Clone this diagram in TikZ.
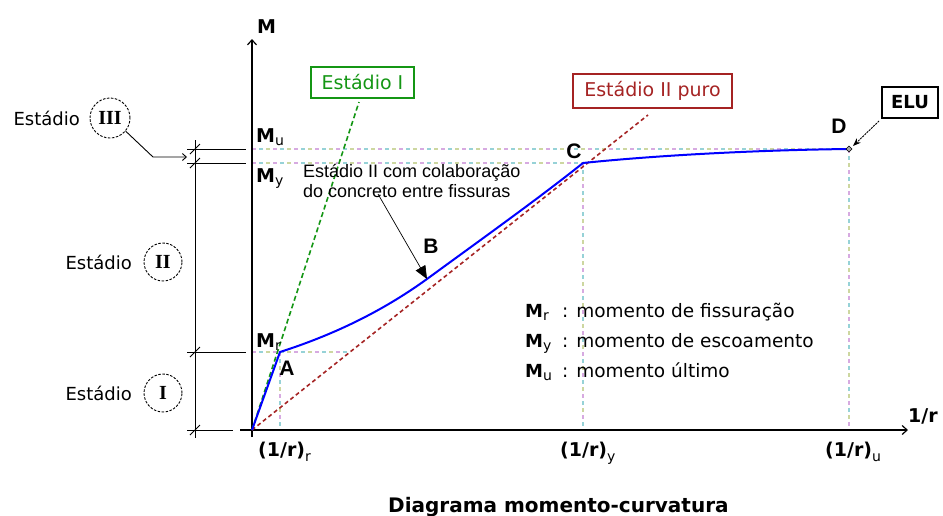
\documentclass[tikz,border=0pt]{standalone}
\usepackage{fontspec}
\setmainfont{DejaVu Sans}
\newfontfamily\arialf{Liberation Sans}
\newfontfamily\timesf{Liberation Serif}
\usetikzlibrary{arrows.meta}
\definecolor{bluel}{RGB}{0,0,255}
\definecolor{redd}{RGB}{165,35,35}
\definecolor{greend}{RGB}{20,150,20}
\definecolor{guideP}{RGB}{215,170,225}
\definecolor{guideC}{RGB}{150,210,215}
\definecolor{guideY}{RGB}{205,215,160}
\newcommand{\Msub}[2][19]{{\bfseries\fontsize{#1}{#1}\selectfont M}\raisebox{-3pt}{\fontsize{14}{14}\selectfont #2}}
\newcommand{\curv}[1]{{\bfseries\fontsize{19}{19}\selectfont (1/r)}\raisebox{-5pt}{\fontsize{14}{14}\selectfont #1}}
\begin{document}
\begin{tikzpicture}[x=1pt,y=-1pt,
  font=\fontsize{18}{20}\selectfont,
  blueline/.style={draw=bluel, line width=2pt, line join=round},
  redline/.style={draw=redd, line width=1.6pt, dash pattern=on 4pt off 3pt},
  greenline/.style={draw=greend, line width=1.6pt, dash pattern=on 5pt off 3pt},
  guide/.style={draw=guideP, line width=1.1pt, dash pattern=on 4pt off 17pt,
     postaction={draw=guideC, line width=1.1pt, dash pattern=on 4pt off 17pt, dash phase=14pt},
     postaction={draw=guideY, line width=1.1pt, dash pattern=on 4pt off 17pt, dash phase=7pt}},
  dim/.style={draw=black, line width=0.9pt},
  tick/.style={draw=black, line width=0.8pt},
  numc/.style={circle, draw=black, line width=0.9pt, dash pattern=on 2.5pt off 1.5pt, inner sep=0pt},
  roman/.style={font=\timesf\bfseries\fontsize{20}{20}\selectfont},
  ptlbl/.style={font=\arialf\bfseries\fontsize{21}{21}\selectfont, inner sep=0pt},
  lbl/.style={anchor=base west, inner sep=0pt},
  axarrow/.style={-{Straight Barb[length=5pt,width=9pt]}, line width=1.2pt}
]
\useasboundingbox (0,0) rectangle (943,515);

% key points
\coordinate (O) at (252,430);
\coordinate (A) at (280,352);
\coordinate (B) at (427,279);
\coordinate (C) at (583,163);
\coordinate (D) at (849,149);
\coordinate (Mu0) at (252,149);
\coordinate (My0) at (252,163);
\coordinate (Mr0) at (252,352);
\coordinate (MrE) at (350,352);
\coordinate (Ax) at (280,430);
\coordinate (Cx) at (583,430);
\coordinate (Dx) at (849,430);

% guide lines
\draw[guide] (Mu0) -- (D);
\draw[guide] (My0) -- (C);
\draw[guide] (Mr0) -- (MrE);
\draw[guide] (A) -- (Ax);
\draw[guide] (C) -- (Cx);
\draw[guide] (D) -- (Dx);

% axes
\coordinate (xs) at (240,430);
\coordinate (xe) at (908,430);
\coordinate (ys) at (252,437);
\coordinate (ye) at (252,39);
\draw[axarrow] (xs) -- (xe);
\draw[axarrow] (ys) -- (ye);
\node[lbl, font=\bfseries\fontsize{19}{19}\selectfont] (Mlab) at (257,33) {M};
\node[lbl, font=\bfseries\fontsize{19}{19}\selectfont] (rlab) at (908,422) {1/r};

% boxes
\node[draw=greend, text=greend, line width=1.3pt, minimum width=103pt, minimum height=31pt, inner sep=0pt, font=\fontsize{19}{19}\selectfont] (e1) at (362.5,82.5) {Estádio I};
\node[draw=redd, text=redd, line width=1.3pt, minimum width=159pt, minimum height=34pt, inner sep=0pt, font=\fontsize{19}{19}\selectfont] (e2) at (652.5,91) {Estádio II puro};
\node[draw=black, line width=1.6pt, minimum width=56pt, minimum height=31pt, inner sep=0pt, font=\bfseries\fontsize{18}{18}\selectfont] (elu) at (910,102.5) {ELU};

% stage lines
\coordinate (gEnd) at (359,102);
\coordinate (rEnd) at (648,115);
\draw[greenline] (O) -- (gEnd);
\draw[redline] (O) -- (rEnd);

% moment-curvature curve
\draw[blueline] (O) -- (A) .. controls (330,336) and (380,313) .. (B)
   .. controls (480,240.3) and (540,197.4) .. (C)
   .. controls (660,155) and (760,150) .. (D);

% D marker and ELU arrow
\draw[fill=gray!70, line width=0.6pt] (D) +(-3,0) -- +(0,-3) -- +(3,0) -- +(0,3) -- cycle;
\coordinate (eluS) at (879,121);
\coordinate (Dt) at (853,146);
\draw[line width=0.9pt, dash pattern=on 2pt off 1pt, -{Stealth[length=8pt,width=6pt]}] (eluS) -- (Dt);

% point labels
\node[ptlbl] (lA) at (287,368) {A};
\node[ptlbl] (lB) at (431,246) {B};
\node[ptlbl] (lC) at (574,151) {C};
\node[ptlbl] (lD) at (839,126) {D};

% annotation
\node[lbl, font=\arialf\fontsize{18}{18}\selectfont] (t1) at (303,177) {Estádio II com colaboração};
\node[lbl, font=\arialf\fontsize{18}{18}\selectfont] (t2) at (303,197) {do concreto entre fissuras};
\coordinate (arS) at (378,194);
\draw[line width=0.7pt, -{Triangle[length=13pt,width=11pt]}] (arS) -- (B);

% axis value labels
\node[lbl] (mu) at (256,142) {\Msub{u}};
\node[lbl] (my) at (256,182) {\Msub{y}};
\node[lbl] (mr) at (256,347) {\Msub{r}};
\node[lbl] (x1) at (258,456) {\curv{r}};
\node[lbl] (x2) at (560,456) {\curv{y}};
\node[lbl] (x3) at (825,456) {\curv{u}};

% legend
\begin{scope}[font=\fontsize{18.5}{20}\selectfont]
\node[lbl] (g1a) at (525,317) {\Msub[18]{r}};
\node[lbl] (g1b) at (562,317) {: momento de fissuração};
\node[lbl] (g2a) at (525,347) {\Msub[18]{y}};
\node[lbl] (g2b) at (562,347) {: momento de escoamento};
\node[lbl] (g3a) at (525,377) {\Msub[18]{u}};
\node[lbl] (g3b) at (562,377) {: momento último};
\end{scope}

% title
\node[lbl, font=\bfseries\fontsize{20}{20}\selectfont] (title) at (388,512) {Diagrama momento-curvatura};

% dimension lines on the left
\coordinate (dTop) at (195,140);
\coordinate (dBot) at (195,438);
\draw[dim] (dTop) -- (dBot);
\foreach \yy in {149,163,352} {
  \draw[dim] (187,\yy) -- (246,\yy);
  \draw[tick] (190,\yy+5) -- (200,\yy-5);
}
\draw[dim] (187,430) -- (233,430);
\draw[tick] (190,435) -- (200,425);

% stage labels
\node[anchor=east, inner sep=0pt] (s3) at (80,118) {Estádio};
\node[numc, minimum size=40pt, roman] (c3) at (110,118) {III};
\node[anchor=east, inner sep=0pt] (s2) at (132,262) {Estádio};
\node[numc, minimum size=38pt, roman] (c2) at (163,262) {II};
\node[anchor=east, inner sep=0pt] (s1) at (132,393) {Estádio};
\node[numc, minimum size=38pt, roman] (c1) at (163,393) {I};
\coordinate (bend) at (153,157);
\coordinate (dimIII) at (187,157);
\draw[line width=0.9pt, -{Straight Barb[length=4pt,width=7pt]}] (c3.-40) -- (bend) -- (dimIII);
\end{tikzpicture}
\end{document}
